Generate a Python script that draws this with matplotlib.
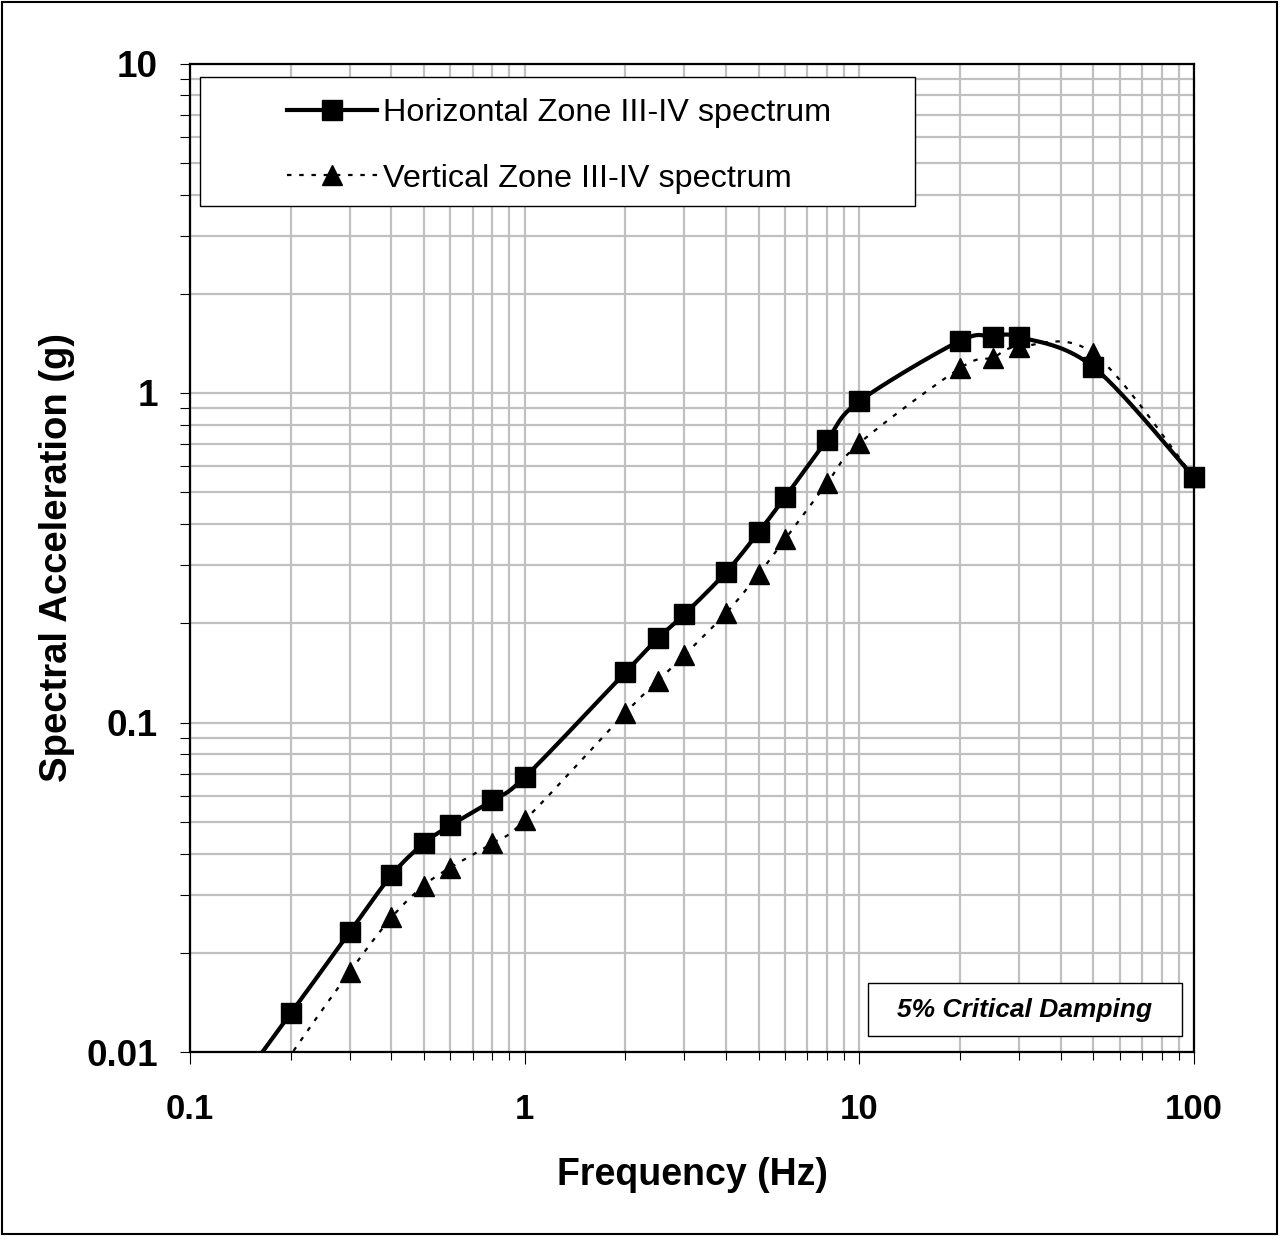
import numpy as np
import matplotlib
matplotlib.use("Agg")
import matplotlib.pyplot as plt
from matplotlib.patches import Rectangle
from matplotlib.lines import Line2D
from matplotlib.ticker import LogLocator, FixedLocator, FixedFormatter, NullFormatter

# ---------------- data ----------------
freq_h = [0.1, 0.2, 0.3, 0.4, 0.5, 0.6, 0.8, 1, 2, 2.5, 3, 4, 5, 6, 8, 10, 20, 25, 30, 50, 100]
acc_h = [0.005, 0.0131, 0.0231, 0.0344, 0.0430, 0.0487, 0.0580, 0.0682, 0.142, 0.180, 0.213,
         0.286, 0.378, 0.483, 0.719, 0.944, 1.44, 1.48, 1.48, 1.20, 0.555]
freq_v = [0.1, 0.2, 0.3, 0.4, 0.5, 0.6, 0.8, 1, 2, 2.5, 3, 4, 5, 6, 8, 10, 20, 25, 30, 50, 100]
acc_v = [0.0035, 0.0098, 0.0175, 0.0256, 0.0320, 0.0363, 0.0430, 0.0505, 0.107, 0.1335, 0.160,
         0.215, 0.282, 0.360, 0.532, 0.704, 1.19, 1.28, 1.38, 1.32, 0.555]

label_h = "Horizontal Zone III-IV spectrum"
label_v = "Vertical Zone III-IV spectrum"
x_ticks = [0.1, 1, 10, 100]
x_ticklabels = ["0.1", "1", "10", "100"]
y_ticks = [0.01, 0.1, 1, 10]
y_ticklabels = ["0.01", "0.1", "1", "10"]
note_text = "5% Critical Damping"
xlabel = "Frequency (Hz)"
ylabel = "Spectral Acceleration (g)"

plt.rcParams["font.family"] = ["Liberation Sans", "DejaVu Sans"]

W, H = 1282, 1236
fig = plt.figure(figsize=(W / 100, H / 100), dpi=100)

def fx(px):
    return px / W

def fy(py):
    return 1 - py / H

ax_l, ax_r, ax_t, ax_b = 190, 1194, 63.5, 1052
ax = fig.add_axes([fx(ax_l), fy(ax_b), (ax_r - ax_l) / W, (ax_b - ax_t) / H])


def smooth(x, y, n=40):
    """Excel-like smoothed line (Catmull-Rom Bezier) in log-log space."""
    P = np.column_stack([np.log10(x), np.log10(y)])
    N = len(P)
    out = []
    t = np.linspace(0, 1, n)[:, None]
    for i in range(N - 1):
        p0 = P[i - 1] if i > 0 else P[i]
        p1, p2 = P[i], P[i + 1]
        p3 = P[i + 2] if i + 2 < N else P[i + 1]
        c1 = p1 + (p2 - p0) / 6.0
        c2 = p2 - (p3 - p1) / 6.0
        seg = (1 - t) ** 3 * p1 + 3 * (1 - t) ** 2 * t * c1 + 3 * (1 - t) * t ** 2 * c2 + t ** 3 * p2
        out.append(seg if i == 0 else seg[1:])
    pts = np.vstack(out)
    return 10 ** pts[:, 0], 10 ** pts[:, 1]


dash_v = (0, (2.0, 3.5))
ymin, ymax = 0.01, 10
sx, sy = smooth(freq_h, acc_h)
ax.plot(sx, sy, color="black", lw=3.0, solid_capstyle="butt", zorder=3)
sx, sy = smooth(freq_v, acc_v)
ax.plot(sx, sy, color="black", lw=1.6, linestyle=dash_v, zorder=3)

mask_h = [v >= ymin for v in acc_h]
mask_v = [v >= ymin for v in acc_v]
ax.plot(freq_h, acc_h, linestyle="none", marker="s", ms=14.5, color="black",
        markevery=mask_h, zorder=4, clip_on=False)
ax.plot(freq_v, acc_v, linestyle="none", marker="^", ms=14.5, color="black",
        markevery=mask_v, zorder=4, clip_on=False)

ax.set_xscale("log")
ax.set_yscale("log")
ax.set_xlim(0.1, 100)
ax.set_ylim(ymin, ymax)

ax.xaxis.set_major_locator(FixedLocator(x_ticks))
ax.xaxis.set_major_formatter(FixedFormatter(x_ticklabels))
ax.yaxis.set_major_locator(FixedLocator(y_ticks))
ax.yaxis.set_major_formatter(FixedFormatter(y_ticklabels))
ax.xaxis.set_minor_locator(LogLocator(base=10, subs=np.arange(2, 10)))
ax.yaxis.set_minor_locator(LogLocator(base=10, subs=np.arange(2, 10)))
ax.xaxis.set_minor_formatter(NullFormatter())
ax.yaxis.set_minor_formatter(NullFormatter())

ax.grid(True, which="both", color="#c0c0c0", lw=1.6)
ax.set_axisbelow(True)
for s in ax.spines.values():
    s.set_linewidth(1.6)
    s.set_color("black")

ax.tick_params(axis="both", which="both", direction="out", width=0.8, color="black",
               top=False, right=False)
ax.tick_params(axis="x", which="major", length=8.5, pad=21)
ax.tick_params(axis="x", which="minor", length=5.8)
ax.tick_params(axis="y", which="major", length=7.2, pad=16)
ax.tick_params(axis="y", which="minor", length=7.2)
for lab in ax.get_xticklabels():
    lab.set_fontsize(25)
    lab.set_fontweight("bold")
for lab in ax.get_yticklabels():
    lab.set_fontsize(26.5)
    lab.set_fontweight("bold")

ax.set_xlabel(xlabel, fontsize=27, fontweight="bold", va="baseline")
ax.xaxis.set_label_coords((692 - ax_l) / (ax_r - ax_l), (ax_b - 1185) / (ax_b - ax_t))
ax.set_ylabel(ylabel, fontsize=27.5, fontweight="bold", va="center")
ax.yaxis.set_label_coords((57 - ax_l) / (ax_r - ax_l), (ax_b - 557) / (ax_b - ax_t))

# legend box
fig.add_artist(Rectangle((fx(200), fy(206)), (915 - 200) / W, (206 - 77) / H,
                         transform=fig.transFigure, fc="white", ec="black", lw=1.0, zorder=5))
handles = [
    Line2D([], [], color="black", lw=3.0, marker="s", ms=14.5),
    Line2D([], [], color="black", lw=1.6, linestyle=dash_v, marker="^", ms=14.5),
]
leg = fig.legend(handles, [label_h, label_v], loc="center left",
                 bbox_to_anchor=(fx(287), fy(146)), frameon=False, fontsize=23.3,
                 borderpad=0, borderaxespad=0, handlelength=2.79, handletextpad=0.19,
                 labelspacing=1.09, numpoints=1)
leg.set_zorder(6)

# note box
fig.add_artist(Rectangle((fx(868), fy(1036)), (1182 - 868) / W, (1036 - 983) / H,
                         transform=fig.transFigure, fc="white", ec="black", lw=1.0, zorder=5))
fig.text(fx(1025), fy(1009.5), note_text, ha="center", va="center", fontsize=19,
         fontweight="bold", fontstyle="italic", zorder=6)

# outer border
fig.add_artist(Rectangle((fx(2), fy(1234)), (1277 - 2) / W, (1234 - 2) / H,
                         transform=fig.transFigure, fc="none", ec="black", lw=1.5, zorder=10))

fig.savefig("out.png", dpi=100)
